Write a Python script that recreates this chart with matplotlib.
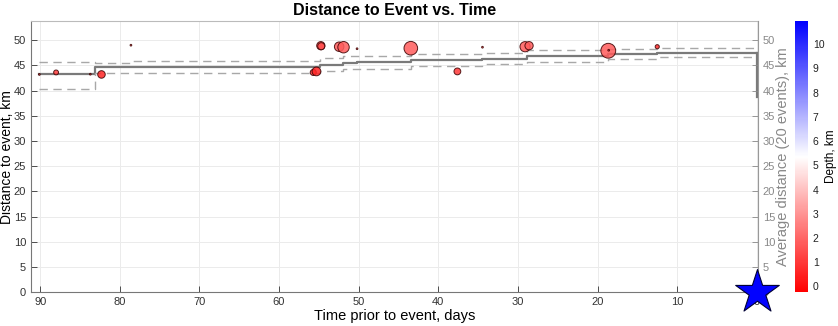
import numpy as np
import matplotlib.pyplot as plt
from matplotlib.colors import LinearSegmentedColormap, Normalize

plt.rcParams['font.family'] = ['Liberation Sans', 'DejaVu Sans']

# Events: time prior to main event (days), distance (km), depth (km), magnitude
ev_time = [90.1, 88.0, 83.7, 82.3, 78.6, 55.7, 55.3, 54.75, 54.7, 52.45, 51.9,
           50.2, 43.45, 37.6, 34.45, 29.1, 28.6, 18.65, 18.6, 12.5]
ev_dist = [43.2, 43.6, 43.25, 43.2, 49.0, 43.6, 43.8, 48.9, 48.8, 48.7, 48.6,
           48.3, 48.4, 43.8, 48.6, 48.7, 48.9, 47.9, 48.0, 48.7]
ev_depth = [1.5, 1.2, 1.5, 0.6, 1.5, 0.8, 0.6, 1.5, 1.5, 1.8, 1.8,
            1.5, 1.8, 1.0, 1.8, 1.8, 1.8, 1.8, 1.2, 0.8]
ev_mag = [0.35, 1.0, 0.35, 1.55, 0.35, 1.25, 1.8, 1.7, 1.45, 1.95, 2.35,
          0.35, 2.8, 1.4, 0.35, 2.1, 1.7, 3.05, 0.35, 0.85]

# main event
main_time = 0.0
main_dist = 0.0
main_depth = 10.9

# running average distance (20 events) with bounds
step_time = [90.2, 83.1, 78.6, 54.8, 51.95, 50.2, 43.45, 34.45, 28.9, 18.65, 12.5, 0.0]
avg_dist = [43.25, 44.6, 44.75, 45.1, 45.5, 45.75, 46.05, 46.35, 46.9, 47.3, 47.55]
avg_upper = [45.75, 45.4, 45.95, 46.4, 46.95, 46.95, 47.2, 47.55, 47.95, 48.3, 48.5]
avg_lower = [40.3, 43.55, 43.45, 43.85, 44.3, 44.3, 44.95, 45.2, 45.6, 46.35, 46.7]
avg_final = 38.8

depth_min, depth_max = -0.24, 10.96

cmap = LinearSegmentedColormap.from_list('rwb', ['#ff0000', '#ffffff', '#0000ff'])
norm = Normalize(depth_min, depth_max)

fig = plt.figure(figsize=(8.38, 3.26), dpi=100)
ax = fig.add_axes([0.037, 0.1034, 0.8675, 0.8322])
cax = fig.add_axes([0.9487, 0.1034, 0.0155, 0.8322])

ax.set_xlim(91.15, -0.15)
ax.set_ylim(0, 53.8)
ax.set_xticks(np.arange(0, 91, 10))
ax.set_yticks(np.arange(0, 51, 5))
ax.grid(True, color='#ebebeb', linewidth=0.7)
ax.set_axisbelow(True)
ax.tick_params(direction='in', labelsize=8, colors='#333333', length=4, width=0.6)
for side in ['left', 'bottom']:
    ax.spines[side].set_color('#777777')
ax.spines['top'].set_color('#bbbbbb')
ax.spines['right'].set_visible(False)

# running average
edges_y = avg_dist + [avg_dist[-1]]
ax.step(step_time, edges_y, where='post', color='#7a7a7a', linewidth=1.6, zorder=2)
ax.plot([step_time[-1], step_time[-1]], [avg_dist[-1], avg_final], color='#7a7a7a', linewidth=1.6, zorder=2)
ax.step(step_time, avg_upper + [avg_upper[-1]], where='post', color='#a8a8a8',
        linewidth=1.0, linestyle=(0, (6, 4)), zorder=2)
ax.step(step_time, avg_lower + [avg_lower[-1]], where='post', color='#a8a8a8',
        linewidth=1.0, linestyle=(0, (6, 4)), zorder=2)

sizes = (3.5 * np.array(ev_mag)) ** 2
ax.scatter(ev_time, ev_dist, s=sizes, c=ev_depth, cmap=cmap, norm=norm,
           edgecolors='#3a0000', linewidths=0.7, alpha=0.85, zorder=3)

ax.set_xlabel('Time prior to event, days', fontsize=10.5)
ax.xaxis.set_label_coords(0.5, -0.06)
ax.set_ylabel('Distance to event, km', fontsize=10)
ax.yaxis.set_label_coords(-0.0235, 0.5)
ax.set_title('Distance to Event vs. Time', fontsize=11.5, fontweight='bold', pad=4)

ax2 = ax.twinx()
ax2.set_ylim(ax.get_ylim())
ax2.set_yticks(np.arange(0, 51, 5))
ax2.tick_params(direction='in', labelsize=8, colors='#888888', length=4, width=0.6)
ax2.spines['right'].set_color('#999999')
for side in ['left', 'top', 'bottom']:
    ax2.spines[side].set_visible(False)
ax2.set_ylabel('Average distance (20 events), km', fontsize=10.5, color='#888888')
ax2.yaxis.set_label_coords(1.0245, 0.5)

ax2.scatter([main_time], [main_dist], s=33 ** 2, marker='*', c=[main_depth], cmap=cmap,
            norm=norm, edgecolors='#000033', linewidths=0.8, clip_on=False, zorder=10)

sm = plt.cm.ScalarMappable(norm=norm, cmap=cmap)
cb = fig.colorbar(sm, cax=cax)
cb.set_ticks(np.arange(0, 11, 1))
cb.outline.set_visible(False)
cax.tick_params(labelsize=7.5, length=0, colors='#222222')
cb.set_label('Depth, km', fontsize=8.5)
cax.yaxis.set_label_coords(2.3, 0.5)

plt.savefig('out.png', dpi=100)
